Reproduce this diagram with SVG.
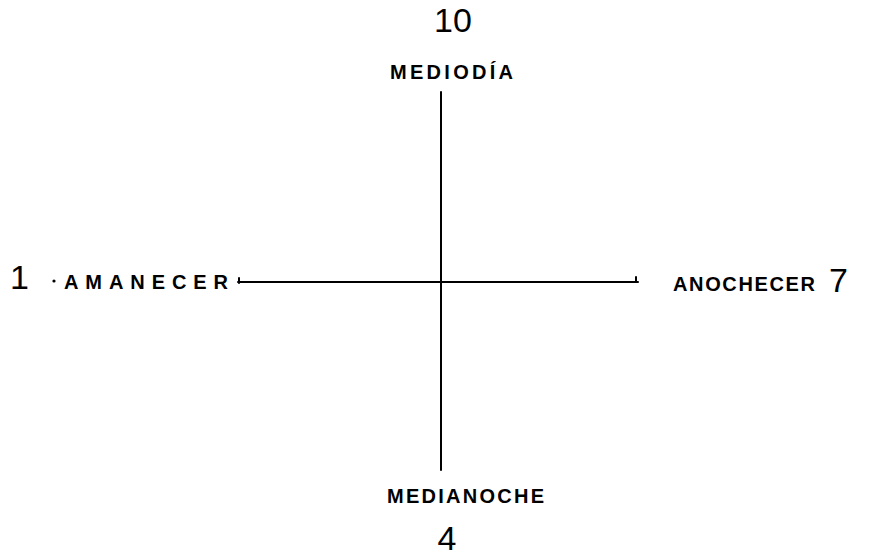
<svg xmlns="http://www.w3.org/2000/svg" width="885" height="557" viewBox="0 0 885 557">
<style>
.lbl{font-family:"Liberation Sans",Arial,sans-serif;font-weight:bold;fill:#000;}
.small{font-size:20px;}
.num{font-size:34px;font-weight:normal;}
.ax{stroke:#000;stroke-width:2;fill:none;stroke-linecap:round;}
</style>
<rect width="885" height="557" fill="#fff"/>
<g id="connectors">
<line class="ax" x1="441" y1="92" x2="441" y2="470"/>
<line class="ax" x1="238" y1="282" x2="638" y2="282"/>
<line class="ax" x1="239" y1="278" x2="239" y2="283"/>
<line class="ax" x1="636" y1="277" x2="636" y2="282"/>
</g>
<g id="n-mediodia">
<text class="lbl num" x="453" y="32" text-anchor="middle" font-size="30">10</text>
<text class="lbl small" x="390" y="79" textLength="123" lengthAdjust="spacing">MEDIODÍA</text>
</g>
<g id="n-amanecer">
<text class="lbl num" x="10" y="289" font-size="40">1</text>
<circle cx="54" cy="281" r="1.6" fill="#000"/>
<text class="lbl small" x="64" y="289" textLength="164" lengthAdjust="spacing">AMANECER</text>
</g>
<g id="n-anochecer">
<text class="lbl small" x="673" y="291" textLength="142" lengthAdjust="spacing">ANOCHECER</text>
<text class="lbl num" x="829" y="292">7</text>
</g>
<g id="n-medianoche">
<text class="lbl small" x="387" y="503" textLength="157" lengthAdjust="spacing">MEDIANOCHE</text>
<text class="lbl num" x="447" y="550" text-anchor="middle">4</text>
</g>
</svg>
